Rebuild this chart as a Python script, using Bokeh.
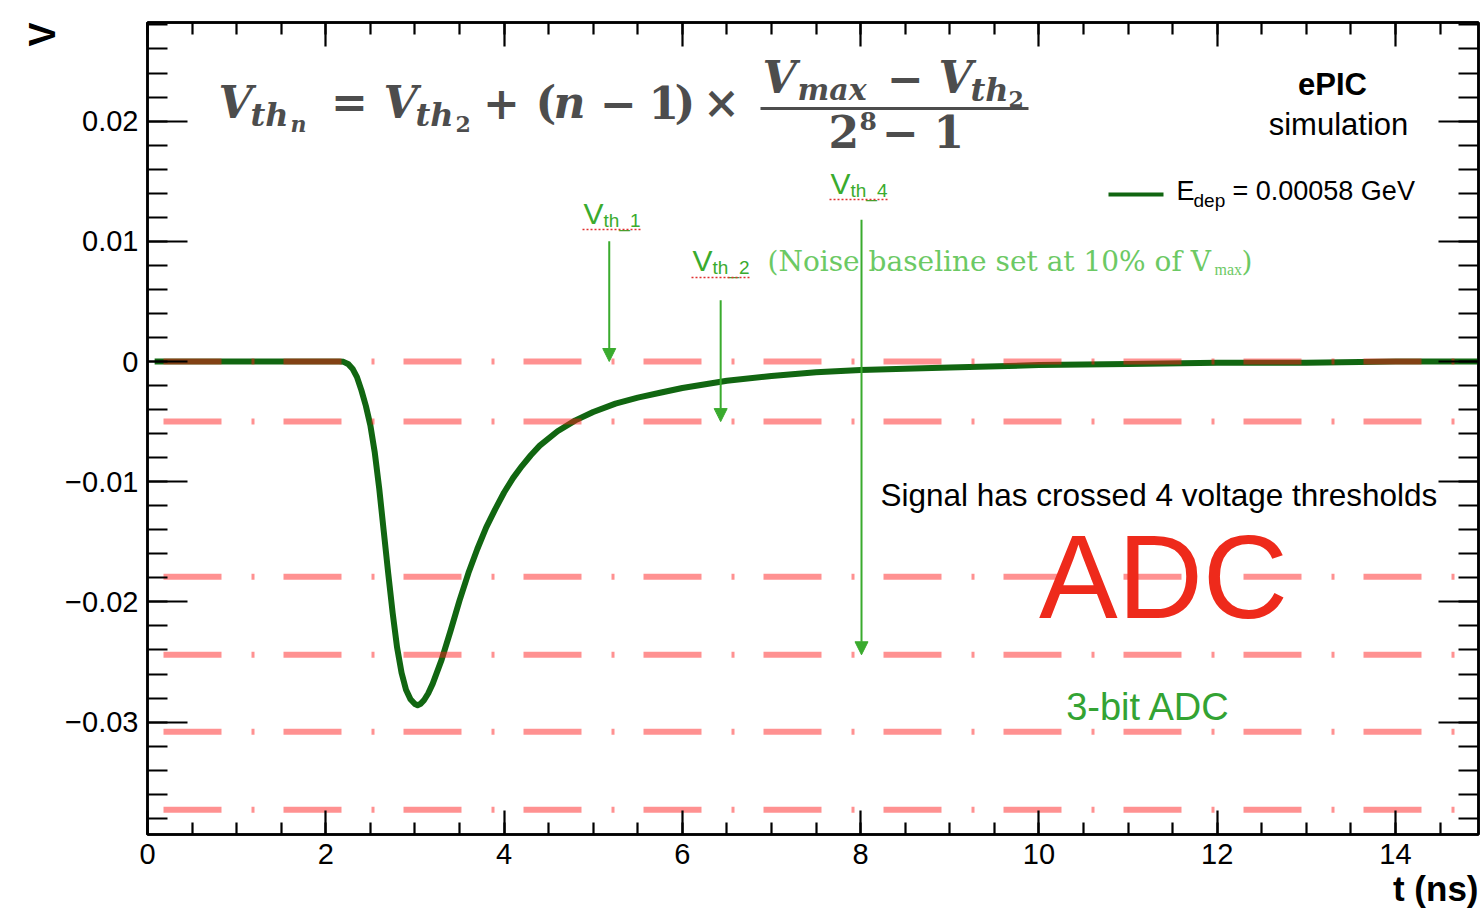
import math
from bokeh.plotting import figure
from bokeh.models import Label, Arrow, NormalHead, FixedTicker, LinearAxis, Range1d, ColumnDataSource, Title
from bokeh.embed import file_html
from bokeh.resources import INLINE

# ---------------- data ----------------
t_ns = [0.08, 0.5, 1.0, 1.5, 2.0, 2.15, 2.2, 2.25, 2.3, 2.35, 2.4, 2.45, 2.5, 2.55, 2.6, 2.65,
        2.7, 2.75, 2.8, 2.85, 2.9, 2.95, 3.0, 3.03, 3.06, 3.1, 3.15, 3.2, 3.3, 3.4, 3.5, 3.6,
        3.7, 3.8, 3.9, 4.0, 4.1, 4.2, 4.3, 4.4, 4.6, 4.8, 5.0, 5.25, 5.5, 5.75, 6.0, 6.5, 7.0,
        7.5, 8.0, 9.0, 10.0, 11.0, 12.0, 13.0, 14.0, 15.0]
v_signal = [0.0, 0.0, 0.0, 0.0, 0.0, 0.0, -0.00003, -0.0002, -0.0006, -0.0013, -0.0024, -0.0037,
            -0.0053, -0.0076, -0.0106, -0.0141, -0.0176, -0.0209, -0.0238, -0.0259, -0.0273,
            -0.0281, -0.0285, -0.0286, -0.0285, -0.0282, -0.0276, -0.0268, -0.0248, -0.0224,
            -0.0199, -0.0176, -0.0156, -0.0138, -0.0123, -0.0109, -0.0097, -0.0087, -0.0078,
            -0.0070, -0.0058, -0.0049, -0.0042, -0.0035, -0.0030, -0.0026, -0.0022, -0.0016,
            -0.0012, -0.0009, -0.0007, -0.0005, -0.0003, -0.0002, -0.0001, -0.0001, 0.0, 0.0]
thresholds = [0.0, -0.005, -0.0179, -0.0244, -0.0308, -0.0373]
arrow_t = [5.18, 6.43, 8.01]
arrow_top = [0.0100, 0.0051, 0.0118]
arrow_thr_index = [0, 1, 3]
arrow_names = ["th_1", "th_2", "th_4"]
x_ticks = [0, 2, 4, 6, 8, 10, 12, 14]
x_tick_labels = ["0", "2", "4", "6", "8", "10", "12", "14"]
y_ticks = [-0.03, -0.02, -0.01, 0.0, 0.01, 0.02]
y_tick_labels = ["\u22120.03", "\u22120.02", "\u22120.01", "0", "0.01", "0.02"]
legend_text = "= 0.00058 GeV"

# ---------------- geometry helpers (pixel -> data, for annotations) ----------------
W, H = 1480, 916
FL, FT, FR, FB = 147, 22, 1478, 834
PX_PER_T = 89.14
PX_PER_V = 12020.0
Y0PX = 361


def X(px):
    return (px - FL) / PX_PER_T


def Y(py):
    return (Y0PX - py) / PX_PER_V


p = figure(width=W, height=H, output_backend="svg", toolbar_location=None,
           x_range=Range1d(0, X(FR)), y_range=Range1d(Y(FB), Y(FT)),
           min_border_left=FL, min_border_top=FT, min_border_right=W - FR,
           min_border_bottom=H - FB, background_fill_color="white",
           border_fill_color="white", outline_line_color="black", outline_line_width=2.5)
p.xgrid.visible = False
p.ygrid.visible = False

SANS = "Liberation Sans"
SERIF = "DejaVu Serif"

xminor = [i * 0.5 for i in range(0, 31)]
yminor = [round(-0.038 + i * 0.002, 4) for i in range(0, 34)]
xt = FixedTicker(ticks=x_ticks, minor_ticks=xminor)
yt = FixedTicker(ticks=y_ticks, minor_ticks=yminor)


def style_axis(ax, major, minor):
    ax.axis_line_color = "black"
    ax.axis_line_width = 2.5
    ax.major_tick_in = major
    ax.major_tick_out = 0
    ax.minor_tick_in = minor
    ax.minor_tick_out = 0
    ax.major_tick_line_width = 2.2
    ax.minor_tick_line_width = 2.2
    ax.major_tick_line_color = "black"
    ax.minor_tick_line_color = "black"
    ax.major_label_text_font = SANS
    ax.major_label_text_font_size = "29px"
    ax.major_label_text_color = "black"


p.xaxis.ticker = xt
p.yaxis.ticker = yt
p.xaxis.major_label_overrides = {v: s for v, s in zip(x_ticks, x_tick_labels)}
p.yaxis.major_label_overrides = {v: s for v, s in zip(y_ticks, y_tick_labels)}
style_axis(p.xaxis[0], 24, 12)
style_axis(p.yaxis[0], 40, 20)
p.xaxis.major_label_standoff = 9
p.yaxis.major_label_standoff = 9

top_ax = LinearAxis(ticker=xt, major_label_overrides={v: "" for v in x_ticks})
style_axis(top_ax, 24, 12)
top_ax.major_label_text_font_size = "10px"
top_ax.major_label_standoff = 0
right_ax = LinearAxis(ticker=yt, major_label_overrides={v: "" for v in y_ticks})
style_axis(right_ax, 40, 20)
right_ax.major_label_text_font_size = "10px"
right_ax.major_label_standoff = 0
p.add_layout(top_ax, "above")
p.add_layout(right_ax, "right")

# axis titles (ROOT style, at the far ends)
p.add_layout(Title(text="t (ns)", align="right", text_font=SANS, text_font_size="35px",
                   text_font_style="bold", text_color="black", standoff=0), "below")
p.add_layout(Title(text="V", align="right", text_font=SANS, text_font_size="36px",
                   text_font_style="bold", text_color="black", standoff=0), "left")

# ---------------- signal ----------------
src = ColumnDataSource(dict(t=t_ns, v=v_signal))
p.line("t", "v", source=src, line_color="#116611", line_width=6, line_join="round")

# ---------------- threshold lines ----------------
n = len(thresholds)
p.segment(x0=[X(163)] * n, y0=thresholds, x1=[15.5] * n, y1=thresholds,
          line_color="#ff1a1a", line_alpha=0.48, line_width=6, line_dash="58 30 3 29")


def lab(px, py, text, size, color, font=SANS, style="normal", align="left",
        baseline="alphabetic", angle=0.0, alpha=1.0):
    if baseline == "alphabetic":
        py = py - 0.36 * size
    p.add_layout(Label(x=X(px), y=Y(py), text=text, text_font=font,
                       text_font_size=f"{size}px", text_font_style=style,
                       text_color=color, text_align=align, text_baseline="middle",
                       angle=angle, text_alpha=alpha))


def seg(px0, py0, px1, py1, color, width, dash="solid"):
    p.add_layout(Arrow(end=None, start=None, x_start=X(px0), y_start=Y(py0),
                       x_end=X(px1), y_end=Y(py1), line_color=color,
                       line_width=width, line_dash=dash))


# ---------------- formula ----------------
FC = "#4d4d4d"
BI, B = "bold italic", "bold"
lab(218, 118, "V", 44, FC, SERIF, BI)
lab(250, 126, "th", 32, FC, SERIF, BI)
lab(290, 131, "n", 22, FC, SERIF, BI)
lab(349, 118, "=", 44, FC, SERIF, B, "center")
lab(383, 118, "V", 44, FC, SERIF, BI)
lab(415, 126, "th", 32, FC, SERIF, BI)
lab(455, 131, "2", 22, FC, SERIF, B)
lab(501, 118, "+", 44, FC, SERIF, B, "center")
lab(535, 118, "(", 44, FC, SERIF, B)
lab(553, 118, "n", 44, FC, SERIF, BI)
lab(618, 118, "\u2212", 44, FC, SERIF, B, "center")
lab(648, 118, "1", 44, FC, SERIF, B)
lab(674, 118, ")", 44, FC, SERIF, B)
lab(721, 118, "\u00d7", 44, FC, SERIF, B, "center")
lab(762, 93, "V", 44, FC, SERIF, BI)
lab(797, 100, "max", 30, FC, SERIF, BI)
lab(905, 93, "\u2212", 44, FC, SERIF, B, "center")
lab(938, 93, "V", 44, FC, SERIF, BI)
lab(970, 101, "th", 32, FC, SERIF, BI)
lab(1008, 106, "2", 22, FC, SERIF, B)
seg(760, 108, 1028, 108, FC, 3)
lab(828, 147, "2", 44, FC, SERIF, B)
lab(859, 129, "8", 25, FC, SERIF, B)
lab(900, 147, "\u2212", 44, FC, SERIF, B, "center")
lab(933, 147, "1", 44, FC, SERIF, B)

# ---------------- texts ----------------
lab(1332, 95, "ePIC", 31, "black", SANS, "bold", "center")
lab(1338, 135, "simulation", 31, "black", SANS, "normal", "center")

# legend
seg(1108, 194, 1163, 194, "#116611", 4)
lab(1176, 200, "E", 27, "black")
lab(1193, 207, "dep", 19, "black")
lab(1232, 200, legend_text, 27, "black")

# noise text (drawn before arrows so the arrow line crosses it)
NG = "#6cc964"
lab(767, 271, "(Noise baseline set at 10% of V", 28, NG, SERIF)
lab(1214, 275, "max", 16, NG, "Liberation Serif")
lab(1241, 271, ")", 28, NG, SERIF)

lab(880, 506, "Signal has crossed 4 voltage thresholds", 31.5, "black")
lab(1163, 576, "ADC", 118, "#ee2a1b", SANS, "normal", "center", "middle")
lab(1148, 706, "3-bit ADC", 38, "#33a333", SANS, "normal", "center", "middle")

# ---------------- threshold arrows ----------------
AG = "#3aab2e"
label_px = {"th_1": (583, 224, 229), "th_2": (692, 271, 277), "th_4": (830, 194, 199)}
for t, top, idx, name in zip(arrow_t, arrow_top, arrow_thr_index, arrow_names):
    p.add_layout(Arrow(end=NormalHead(size=13, fill_color=AG, line_color=AG),
                       x_start=t, y_start=top, x_end=t, y_end=thresholds[idx],
                       line_color=AG, line_width=2))
    lx, lb, ul = label_px[name]
    lab(lx, lb, "V", 30, AG)
    lab(lx + 20, lb + 3, name, 19, AG)
    seg(lx - 1, ul, lx + 57, ul, "#e03030", 1.5, "2 2")

open("out.html", "w").write(file_html(p, INLINE))
